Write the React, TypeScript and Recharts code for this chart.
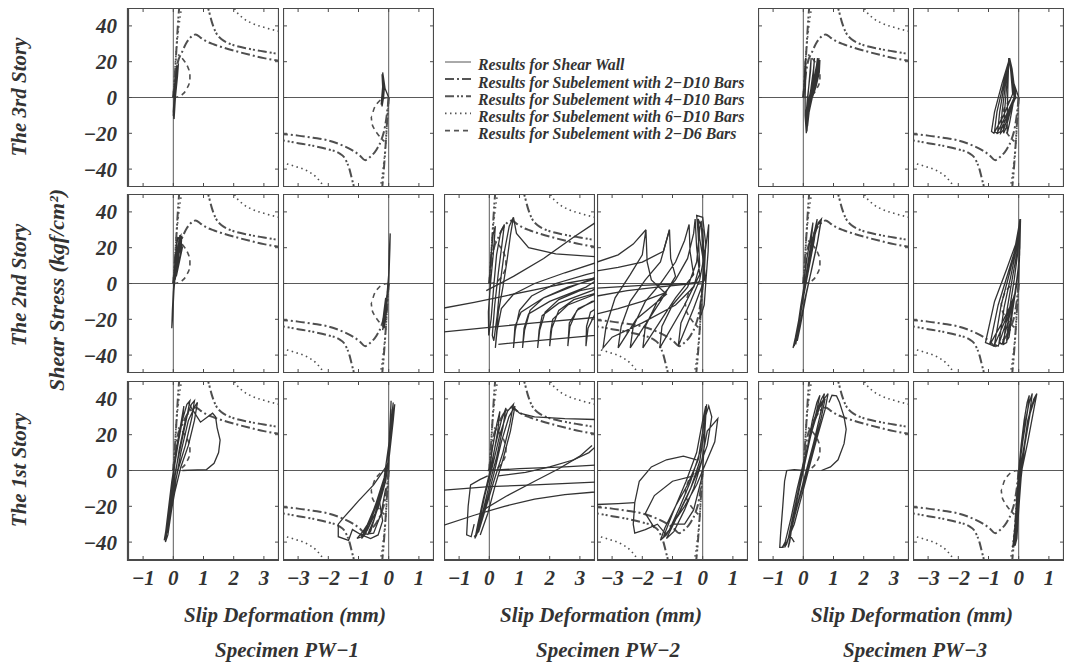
import React from "react";
import { LineChart, Line, XAxis, YAxis, ReferenceLine, ReferenceArea } from "recharts";

type Pt = [number, number];

const SERIF = "'Liberation Serif', 'DejaVu Serif', serif";
const INK = "#333";
const LINE = "#333";
const FRAME = "#4a4a4a";

// tick values
const posXTicks = [-1, 0, 1, 2, 3];
const negXTicks = [-3, -2, -1, 0, 1];
const yTicks = [-40, -20, 0, 20, 40];

// analytical curves, positive side panels
const d10x2Pos: Pt[] = [[0, 0], [0.06, 10], [0.14, 19], [0.28, 25], [0.45, 31], [0.6, 34], [0.74, 35.2], [0.9, 33.5], [1.1, 31.3], [1.35, 29.6], [1.6, 28.2], [2.0, 26.2], [2.5, 24], [3.0, 22], [3.5, 20.5]];
const d10x4Pos: Pt[] = [[0, 0], [0.05, 12], [0.1, 26], [0.15, 40], [0.2, 51], [0.35, 64], [0.65, 66], [0.95, 57], [1.15, 50], [1.28, 42], [1.42, 36], [1.6, 32.5], [1.8, 30.5], [2.0, 29.2], [2.5, 27.2], [3.0, 25.7], [3.5, 24.3]];
const d10x6Pos: Pt[] = [[0, 0], [0.04, 12], [0.1, 26], [0.18, 39], [0.28, 51], [0.6, 75], [1.3, 76], [1.8, 59], [2.05, 49], [2.3, 44.5], [2.6, 41.5], [3.0, 39.2], [3.5, 37]];
const d6x2Pos: Pt[] = [[0, 0], [0.18, 0.5], [0.32, 2], [0.45, 5], [0.55, 9.5], [0.55, 13], [0.48, 17], [0.38, 20], [0.26, 22.5], [0.16, 24]];

// analytical curves, negative side panels
const d10x2Neg: Pt[] = [[0, 0], [-0.05, -8], [-0.12, -16], [-0.25, -24], [-0.4, -29], [-0.6, -33], [-0.78, -35], [-0.95, -32.5], [-1.2, -29.5], [-1.5, -27], [-2.0, -24], [-2.5, -22.5], [-3.0, -21.3], [-3.5, -20.5]];
const d10x4Neg: Pt[] = [[0, 0], [-0.05, -12], [-0.1, -26], [-0.16, -40], [-0.22, -51], [-0.4, -64], [-0.7, -66], [-1.0, -58], [-1.18, -48], [-1.3, -40], [-1.45, -34], [-1.65, -31], [-2.0, -29], [-2.5, -27], [-3.0, -25.5], [-3.5, -24]];
const d10x6Neg: Pt[] = [[0, 0], [-0.04, -12], [-0.1, -26], [-0.18, -39], [-0.28, -51], [-0.6, -75], [-1.3, -76], [-1.9, -60], [-2.15, -50], [-2.4, -44.5], [-2.7, -41], [-3.1, -38.5], [-3.5, -36.5]];
const d6x2Neg: Pt[] = [[0, 0], [-0.18, -0.5], [-0.34, -2.5], [-0.48, -6], [-0.58, -10.5], [-0.56, -14], [-0.48, -17.5], [-0.36, -20.5], [-0.24, -23], [-0.14, -24.5]];

// measured shear wall results (slip mm, stress kgf/cm2)
const pw1Story3Pos: Pt[][] = [
  [[0, 0], [0.05, 8], [0.1, 15], [0.12, 18], [0.08, 10], [0.03, 0], [0.0, -8], [0.02, -12], [0.05, -4], [0.1, 6], [0.14, 16], [0.11, 17], [0.06, 6], [0.02, -4], [0.0, -10], [0.03, -11], [0.07, 0], [0.12, 10], [0.15, 17], [0.13, 14], [0.07, 3], [0.03, -6], [0.01, -9], [0.05, -2], [0.09, 8], [0.17, 19], [0.14, 12], [0.08, 2], [0.03, -5], [0.06, 4], [0.12, 13], [0.16, 18], [0.1, 8], [0.04, -2]],
];
const pw1Story3Neg: Pt[][] = [
  [[0, 0], [-0.12, 5], [-0.18, 12], [-0.2, 14], [-0.17, 8], [-0.22, 0], [-0.25, -4], [-0.2, -2], [-0.15, 4], [-0.19, 10], [-0.22, 13], [-0.2, 6], [-0.24, -2], [-0.22, -5], [-0.17, 0], [-0.14, 6]],
];
const pw3Story3Pos: Pt[][] = [
  [[0, 0], [0.04, 10], [0.06, 20], [0.08, 22], [0.08, 12], [0.06, 0], [0.06, -10], [0.1, -20], [0.12, -12], [0.16, 2], [0.22, 14], [0.26, 22], [0.24, 15], [0.14, 0], [0.08, -12], [0.12, -19], [0.18, -6], [0.26, 6], [0.34, 16], [0.37, 22], [0.33, 12], [0.2, 0], [0.12, -12], [0.14, -16], [0.22, -4], [0.32, 8], [0.44, 18], [0.47, 22], [0.42, 12], [0.28, 2], [0.16, -8], [0.12, -14], [0.22, -6], [0.35, 4], [0.5, 15], [0.55, 21], [0.53, 14], [0.42, 6], [0.26, -2], [0.12, -10], [0.2, -6], [0.36, 8], [0.52, 22], [0.45, 10], [0.25, -2]],
];
const pw3Story3Neg: Pt[][] = [
  [[0, 0], [-0.2, 10], [-0.3, 22], [-0.55, 8], [-0.8, -8], [-0.9, -19], [-0.82, -20], [-0.5, -10], [-0.2, 2], [-0.28, 18],
    [-0.31, 22], [-0.5, 8], [-0.72, -8], [-0.8, -19], [-0.72, -20], [-0.42, -10], [-0.15, 0], [-0.26, 17],
    [-0.3, 21], [-0.47, 8], [-0.63, -8], [-0.7, -20], [-0.6, -19], [-0.35, -9], [-0.12, 1], [-0.25, 18],
    [-0.32, 22], [-0.44, 7], [-0.55, -8], [-0.6, -20], [-0.5, -18], [-0.3, -8], [-0.1, 0], [-0.22, 16],
    [-0.3, 22], [-0.4, 6], [-0.47, -8], [-0.5, -20], [-0.42, -17], [-0.25, -6], [-0.1, 2], [-0.28, 19],
    [-0.33, 22], [-0.36, 5], [-0.38, -10], [-0.38, -20], [-0.3, -14], [-0.18, -3], [-0.12, 4], [-0.3, 20]],
];

const pw1Story2Pos: Pt[][] = [
  [[0, 0], [0.05, 10], [0.1, 20], [0.15, 26], [0.12, 22], [0.05, 8], [0, -5], [-0.03, -15], [-0.05, -25], [-0.02, -18], [0.02, -4], [0.08, 8], [0.18, 22], [0.22, 27], [0.18, 18], [0.08, 5], [0.05, 12], [0.12, 24], [0.25, 27], [0.22, 20], [0.12, 8], [0.06, 2], [0.1, 14], [0.2, 25], [0.28, 26], [0.24, 16], [0.15, 10], [0.08, 5], [0.12, 18], [0.25, 24], [0.3, 20], [0.2, 12], [0.1, 4], [0.16, 16], [0.26, 23], [0.14, 12]],
];
const pw1Story2Neg: Pt[][] = [
  [[0, 0], [0.02, 10], [0.04, 20], [0.05, 28], [0.02, 18], [0, 5], [-0.05, -5], [-0.1, -15], [-0.15, -22], [-0.2, -26], [-0.15, -20], [-0.08, -12], [-0.03, -2], [-0.08, -10], [-0.14, -18], [-0.18, -24], [-0.12, -22], [-0.06, -14], [-0.1, -8], [-0.16, -16], [-0.2, -22], [-0.15, -25], [-0.1, -18], [-0.05, -8], [0, 0]],
];
const pw2Story2Pos: Pt[][] = [
  [[0, 0], [0.05, 14], [0.12, 27], [0.2, 32], [0.14, 18], [0.04, 0], [-0.03, -16], [-0.02, -29], [0.06, -20], [0.14, -3],
    [0.24, 16], [0.38, 29], [0.5, 33], [0.42, 22], [0.3, 6], [0.18, -12], [0.1, -29], [0.15, -32], [0.26, -18],
    [0.36, 0], [0.5, 18], [0.66, 32], [0.8, 37], [0.7, 27], [0.58, 12], [0.45, -2],
    [0.3, -16], [0.2, -36], [0.26, -26], [0.4, -14], [0.8, -6], [1.5, 0], [2.5, 6], [3.6, 12], [4.2, 8],
    [3.0, 0], [1.8, -8], [1.05, -16], [0.85, -24], [0.8, -36], [0.86, -26], [1.0, -15], [1.4, -7], [2.2, 0], [3.2, 5], [4.2, 9],
    [3.2, -2], [2.0, -10], [1.3, -17], [1.15, -25], [1.1, -36], [1.17, -26], [1.35, -15], [1.8, -8], [2.6, -2], [3.6, 3], [4.3, 5],
    [3.4, -4], [2.3, -11], [1.75, -18], [1.65, -26], [1.6, -36], [1.67, -26], [1.85, -16], [2.3, -9], [3.0, -4], [4.2, 0],
    [3.5, -6], [2.6, -12], [2.1, -20], [2.03, -27], [2.0, -35], [2.07, -25], [2.3, -15], [2.8, -9], [3.6, -5], [4.4, -3],
    [3.7, -8], [2.95, -14], [2.65, -22], [2.6, -35], [2.67, -24], [2.9, -15], [3.4, -10], [4.3, -7],
    [3.9, -10], [3.35, -16], [3.22, -24], [3.2, -35], [3.27, -25], [3.5, -17], [4.2, -12]],
  [[-2, -12], [-1.5, -13.7], [-0.5, -10.5], [0.5, -7], [1.5, -3.5], [2.5, 0], [3.5, 3], [4, 4.5]],
  [[-2, -28], [-1.5, -27], [0, -24.5], [1.5, -22], [3.5, -19], [4, -18]],
  [[-0.1, -4], [0.8, 4], [1.8, 14], [2.8, 26], [3.6, 35]],
  [[0.8, 37], [0.9, 28], [1.3, 20], [2.2, 16.5], [3.5, 15], [4, 15]],
  [[0.3, -34], [1.5, -32], [3.5, -29], [4, -28]],
];
const pw2Story2Neg: Pt[][] = [
  [[0, 0], [0.05, 15], [0.0, 30], [-0.15, 36], [-0.1, 25], [0.05, 10], [0.1, 0], [0.05, -12], [-0.1, -20], [-0.05, -8], [0.05, 5], [0.1, 22], [0.0, 37], [-0.2, 38], [-0.15, 28],
    [-0.1, 10], [-0.3, -2], [-0.9, -12], [-2.0, -22], [-3.0, -30], [-3.3, -36], [-3.2, -24], [-2.9, -8], [-2.4, 5], [-2.0, 16], [-1.88, 30], [-1.84, 12], [-1.7, 2],
    [-1.2, -6], [-2.2, -20], [-2.8, -36], [-2.7, -24], [-2.4, -10], [-1.9, 2], [-1.4, 12], [-1.1, 30], [-1.06, 14], [-0.9, 4],
    [-1.4, -10], [-2.4, -36], [-2.3, -24], [-1.9, -10], [-1.4, 0], [-0.9, 12], [-0.6, 24], [-0.45, 33], [-0.42, 18], [-0.3, 5],
    [-0.9, -8], [-1.98, -36], [-1.9, -24], [-1.5, -10], [-0.9, 2], [-0.5, 14], [-0.3, 28], [-0.25, 36], [-0.2, 20], [-0.1, 5],
    [-0.6, -12], [-1.42, -36], [-1.35, -24], [-1.0, -12], [-0.5, -2], [-0.2, 12], [-0.1, 30], [-0.05, 35], [0, 18], [0.05, 2],
    [-0.3, -14], [-0.81, -35], [-0.72, -22], [-0.4, -10], [-0.1, 2], [0.1, 20], [0.2, 33], [0.18, 18], [0.1, 0]],
  [[-4, 9], [-3.5, 12], [-2.8, 16], [-2.3, 22], [-1.88, 30]],
  [[-4, 5], [-3.5, 7], [-2.8, 9], [-2.0, 12], [-1.3, 18], [-1.1, 30]],
  [[-4, -3], [-3.5, -2.6], [-2.0, -1], [-0.5, 0], [0, 1]],
  [[-4, -9], [-3.5, -7], [-2.5, -4], [-1.5, -2], [-0.3, 0]],
  [[-4, -19], [-3.5, -17], [-2.8, -14], [-2.0, -10], [-1.2, -5]],
];
const pw3Story2Pos: Pt[][] = [
  [[0, 0], [0.12, 14], [0.25, 27], [0.32, 34], [0.25, 22], [0.1, 6], [-0.05, -10], [-0.15, -24], [-0.25, -34], [-0.2, -26], [-0.08, -12], [0.06, 2], [0.22, 18], [0.38, 30], [0.46, 36], [0.36, 24], [0.18, 8], [0.0, -8], [-0.14, -22], [-0.3, -35], [-0.22, -28], [-0.06, -14], [0.1, 2], [0.28, 20], [0.45, 32], [0.58, 35], [0.46, 22], [0.28, 8], [0.06, -8], [-0.12, -24], [-0.34, -36], [-0.26, -30], [-0.1, -16], [0.08, 0], [0.3, 22], [0.5, 34], [0.6, 36], [0.48, 24], [0.3, 10], [0.1, -6], [-0.1, -24], [-0.2, -32]],
];
const pw3Story2Neg: Pt[][] = [
  [[0, 0], [0.05, 36], [-0.1, 22], [-0.4, 8], [-0.8, -10], [-1.1, -33], [-0.95, -34], [-0.55, -22], [-0.15, -8], [0, 10], [0.04, 26],
    [0.06, 35], [-0.1, 20], [-0.35, 6], [-0.68, -12], [-0.95, -34], [-0.82, -35], [-0.48, -22], [-0.13, -6], [0.02, 12], [0.05, 28],
    [0.04, 36], [-0.08, 21], [-0.3, 6], [-0.58, -12], [-0.8, -34], [-0.68, -35], [-0.4, -21], [-0.12, -5], [0.01, 12], [0.05, 30],
    [0.05, 34], [-0.07, 20], [-0.25, 5], [-0.48, -13], [-0.65, -33], [-0.55, -34], [-0.33, -20], [-0.1, -4], [0.02, 14], [0.05, 30],
    [0.04, 35], [-0.05, 18], [-0.2, 4], [-0.38, -14], [-0.5, -34], [-0.4, -33], [-0.25, -18], [-0.08, -2], [0.03, 16], [0.05, 32],
    [0.05, 36], [-0.04, 16], [-0.15, 2], [-0.3, -14], [-0.4, -32], [-0.32, -30], [-0.2, -15], [-0.06, 0], [0.04, 20], [0.06, 36]],
];

const pw1Story1Pos: Pt[][] = [
  [[0, 0], [0.1, 12], [0.25, 26], [0.35, 36], [0.3, 28], [0.1, 10], [-0.05, -6], [-0.15, -20], [-0.25, -34], [-0.3, -39], [-0.22, -32], [-0.1, -16], [0.02, 0], [0.15, 14], [0.3, 28], [0.45, 37], [0.55, 39], [0.45, 30], [0.25, 14], [0.05, -2], [-0.08, -16], [-0.2, -32], [-0.28, -38], [-0.2, -34], [-0.06, -18], [0.05, -4], [0.2, 12], [0.4, 28], [0.6, 37], [0.7, 39], [0.62, 30], [0.4, 14], [0.15, 0], [-0.05, -16], [-0.18, -30], [-0.26, -40], [-0.18, -36], [-0.04, -20], [0.08, -6], [0.25, 10], [0.5, 28], [0.72, 36], [0.8, 38], [0.7, 28], [0.5, 14], [0.25, 2], [0.05, -12], [-0.1, -26]],
  [[0.3, 0], [0.8, 0.3], [1.1, 0.5], [1.35, 4], [1.5, 10], [1.55, 17], [1.45, 24], [1.4, 30], [1.3, 32], [0.9, 27], [0.6, 35], [0.5, 38]],
];
const pw1Story1Neg: Pt[][] = [
  [[0, 0], [0.03, 15], [0.06, 30], [0.08, 39], [0.04, 25], [0.0, 8], [-0.1, -6], [-0.3, -18], [-0.5, -28], [-0.7, -36], [-0.6, -34], [-0.35, -20], [-0.1, -6], [0.02, 10], [0.1, 30], [0.15, 38], [0.1, 26], [0.0, 5], [-0.2, -10], [-0.45, -24], [-0.7, -33], [-0.9, -38], [-0.8, -36], [-0.5, -22], [-0.2, -8], [0.0, 6], [0.1, 25], [0.2, 37], [0.15, 28], [0.02, 8], [-0.25, -12], [-0.55, -26], [-0.85, -34], [-1.05, -38], [-0.9, -37], [-0.6, -28], [-0.3, -14], [-0.05, 0], [0.05, 20], [0.12, 34], [0.05, 20], [-0.15, -4], [-0.45, -20], [-0.75, -32], [-0.95, -36], [-0.5, -35], [-0.25, -24], [-0.1, -10]],
  [[-0.05, 3], [-0.5, -8], [-1.0, -17], [-1.5, -26.5], [-1.67, -30], [-1.67, -37], [-1.33, -39], [-1.2, -33], [-0.9, -36], [-0.6, -38], [-0.35, -36], [-0.2, -28], [-0.3, -18]],
];
const pw2Story1Pos: Pt[][] = [
  [[0, 0], [0.1, 12], [0.25, 26], [0.35, 33], [0.28, 22], [0.1, 5], [-0.1, -10], [-0.3, -24], [-0.45, -36], [-0.38, -30], [-0.2, -16], [0.0, -2], [0.2, 14], [0.4, 28], [0.55, 35], [0.45, 24], [0.25, 8], [0.0, -8], [-0.2, -22], [-0.42, -36], [-0.48, -38], [-0.35, -30], [-0.15, -14], [0.1, 2], [0.35, 20], [0.6, 33], [0.8, 37], [0.68, 26], [0.45, 10], [0.15, -6], [-0.1, -20], [-0.35, -34], [-0.5, -37], [-0.35, -34], [-0.1, -18], [0.15, -2], [0.4, 16], [0.65, 30], [0.85, 36], [0.7, 22], [0.45, 6], [0.2, -8], [-0.05, -24], [-0.3, -36]],
  [[-0.05, -3], [-0.3, -5], [-0.62, -8], [-0.7, -20], [-0.75, -36], [-0.6, -37], [-0.5, -30]],
  [[0.75, 36], [1.0, 32], [1.5, 30], [2.5, 29], [3.5, 28.5], [4, 28.5]],
  [[0.3, -3], [1.2, -1], [2.0, 2], [2.8, 6], [3.3, 10], [3.5, 13], [3.7, 16]],
  [[-0.05, 0], [1.0, 1], [2.5, 2], [3.5, 3], [4, 3.3]],
  [[-2, -12], [-1.5, -11], [0, -9], [1.5, -8], [3.5, -6.5], [4, -6]],
  [[-2, -32], [-1.5, -30.5], [-0.5, -25], [0.5, -20], [1.5, -16], [2.5, -13.5], [3.5, -12], [4, -11]],
  [[-0.2, -22], [0.6, -14], [1.5, -6], [2.3, 1], [3.0, 8], [3.4, 14]],
];
const pw2Story1Neg: Pt[][] = [
  [[0, 0], [0.05, 15], [0.1, 30], [0.13, 37], [0.05, 22], [-0.1, 5], [-0.4, -10], [-0.8, -24], [-1.2, -36], [-1.4, -39], [-1.25, -32], [-0.9, -20], [-0.5, -8], [-0.15, 6], [0.0, 22], [0.1, 36], [0.0, 28], [-0.2, 10], [-0.55, -6], [-0.95, -22], [-1.3, -37], [-1.1, -33], [-0.75, -20], [-0.4, -6], [-0.1, 10], [0.05, 28], [0.2, 36], [0.3, 30], [0.15, 14], [-0.15, 0], [-0.5, -14], [-0.85, -26], [-1.2, -38], [-0.95, -34], [-0.6, -22], [-0.3, -10], [-0.05, 4], [0.15, 22], [0.5, 29], [0.4, 16], [0.1, 4], [-0.2, -8], [-0.6, -20], [-1.0, -30], [-0.6, -30], [-0.3, -22], [-0.15, -12], [0, -2]],
  [[-0.2, 6], [-0.64, 8], [-1.2, 6], [-1.7, 2], [-2.1, -6], [-2.25, -18], [-2.3, -30], [-2.25, -35], [-1.9, -33], [-1.5, -30], [-1.2, -36]],
  [[-4, -19], [-3.5, -19], [-2.8, -18.5], [-2.25, -18]],
  [[-0.3, -3], [-1.0, -6], [-1.6, -14], [-1.9, -24], [-1.6, -32]],
];
const pw3Story1Pos: Pt[][] = [
  [[0, 0], [0.15, 14], [0.3, 28], [0.45, 38], [0.55, 42], [0.45, 34], [0.2, 16], [0, 0], [-0.2, -14], [-0.35, -28], [-0.45, -40], [-0.5, -43], [-0.42, -36], [-0.25, -20], [-0.05, -4], [0.15, 12], [0.35, 28], [0.6, 40], [0.7, 43], [0.6, 34], [0.35, 16], [0.1, 0], [-0.15, -16], [-0.35, -30], [-0.55, -41], [-0.62, -43], [-0.5, -38], [-0.3, -22], [-0.1, -6], [0.1, 10], [0.35, 26], [0.6, 38], [0.82, 43], [0.72, 34], [0.45, 18], [0.2, 2], [-0.05, -14], [-0.3, -30], [-0.55, -40], [-0.7, -43], [-0.6, -40], [-0.4, -26], [-0.2, -10], [0, 4], [0.25, 20], [0.5, 34], [0.72, 40], [0.6, 30], [0.35, 14], [0.1, -2], [-0.2, -20], [-0.45, -36], [-0.3, -40]],
  [[0.6, 0], [0.9, 2], [1.15, 6], [1.35, 15], [1.42, 23], [1.35, 30], [1.2, 38], [1.1, 41.7], [0.95, 42], [0.85, 38]],
  [[0, 0], [-0.3, 0.5], [-0.55, 0], [-0.62, -6], [-0.68, -20], [-0.75, -35], [-0.78, -43], [-0.65, -43]],
];
const pw3Story1Neg: Pt[][] = [
  [[0, 0], [0.08, 14], [0.18, 28], [0.28, 38], [0.35, 42], [0.3, 34], [0.15, 18], [0.02, 2], [-0.05, -12], [-0.1, -26], [-0.16, -38], [-0.2, -43], [-0.14, -36], [-0.08, -22], [0, -6], [0.08, 10], [0.2, 26], [0.35, 38], [0.45, 43], [0.38, 34], [0.22, 18], [0.06, 2], [-0.04, -14], [-0.1, -30], [-0.15, -42], [-0.1, -40], [-0.04, -26], [0.04, -8], [0.15, 10], [0.3, 28], [0.5, 40], [0.6, 43], [0.5, 34], [0.3, 16], [0.1, 0], [-0.02, -16], [-0.08, -32], [-0.12, -42], [-0.06, -38], [0.0, -22], [0.08, -4], [0.2, 14], [0.38, 32], [0.55, 41]],
];

// panel layout in the page
const COL_LEFT = [128, 283, 444, 597, 758, 913];
const ROW_TOP = [8, 194, 381];
const PLOT_W = 151;
const PLOT_H = 179;

const PANELS: { row: number; col: number; data: Pt[][] }[] = [
  { row: 0, col: 0, data: pw1Story3Pos },
  { row: 0, col: 1, data: pw1Story3Neg },
  { row: 0, col: 4, data: pw3Story3Pos },
  { row: 0, col: 5, data: pw3Story3Neg },
  { row: 1, col: 0, data: pw1Story2Pos },
  { row: 1, col: 1, data: pw1Story2Neg },
  { row: 1, col: 2, data: pw2Story2Pos },
  { row: 1, col: 3, data: pw2Story2Neg },
  { row: 1, col: 4, data: pw3Story2Pos },
  { row: 1, col: 5, data: pw3Story2Neg },
  { row: 2, col: 0, data: pw1Story1Pos },
  { row: 2, col: 1, data: pw1Story1Neg },
  { row: 2, col: 2, data: pw2Story1Pos },
  { row: 2, col: 3, data: pw2Story1Neg },
  { row: 2, col: 4, data: pw3Story1Pos },
  { row: 2, col: 5, data: pw3Story1Neg },
];

const CURVE_STYLES = [
  { name: "Results for Subelement with 2\u2212D10 Bars", dash: "9 3 2 3", width: 2 },
  { name: "Results for Subelement with 4\u2212D10 Bars", dash: "9 3 2 2 2 3", width: 2 },
  { name: "Results for Subelement with 6\u2212D10 Bars", dash: "1.5 3.5", width: 1.6 },
  { name: "Results for Subelement with 2\u2212D6 Bars", dash: "5 4", width: 1.6 },
];
const posCurves = [d10x2Pos, d10x4Pos, d10x6Pos, d6x2Pos];
const negCurves = [d10x2Neg, d10x4Neg, d10x6Neg, d6x2Neg];

const tickFont = { fontSize: 21, fontWeight: 700, fontStyle: "italic", fontFamily: SERIF, fill: INK };
const fmt = (v: number) => (v < 0 ? `\u2212${Math.abs(v)}` : `${v}`);
const toRows = (pts: Pt[]) => pts.map(([x, y]) => ({ x, y }));

function Panel({ row, col, data }: { row: number; col: number; data: Pt[][] }) {
  const pos = col % 2 === 0;
  const showY = col === 0;
  const showX = row === 2;
  const yW = showY ? 60 : 0;
  const xH = showX ? 34 : 0;
  const [xMin, xMax] = pos ? [-1.5, 3.5] : [-3.5, 1.5];
  const ticksX = pos ? posXTicks : negXTicks;
  const curves = pos ? posCurves : negCurves;
  const tx = 4 / 30.2; // inner tick length in x units
  const ty = 4 / 1.79; // inner tick length in y units
  return (
    <div style={{ position: "absolute", left: COL_LEFT[col] - yW, top: ROW_TOP[row] }}>
      <LineChart width={PLOT_W + yW} height={PLOT_H + xH} margin={{ top: 0, right: 0, bottom: 0, left: 0 }}>
        <XAxis dataKey="x" type="number" domain={[xMin, xMax]} ticks={ticksX} allowDataOverflow
          hide={!showX} height={xH} tickSize={0} tickMargin={10} tickFormatter={fmt}
          tick={tickFont} axisLine={false} tickLine={false} />
        <YAxis type="number" domain={[-50, 50]} ticks={yTicks} allowDataOverflow
          hide={!showY} width={yW} tickSize={0} tickMargin={11} tickFormatter={fmt}
          tick={tickFont} axisLine={false} tickLine={false} />
        <ReferenceLine x={0} stroke="#5a5a5a" strokeWidth={1} />
        <ReferenceLine y={0} stroke="#5a5a5a" strokeWidth={1} />
        {ticksX.map((t) => (
          <ReferenceLine key={`b${t}`} segment={[{ x: t, y: -50 }, { x: t, y: -50 + ty }]} stroke={FRAME} />
        ))}
        {ticksX.map((t) => (
          <ReferenceLine key={`t${t}`} segment={[{ x: t, y: 50 }, { x: t, y: 50 - ty }]} stroke={FRAME} />
        ))}
        {yTicks.map((t) => (
          <ReferenceLine key={`l${t}`} segment={[{ x: xMin, y: t }, { x: xMin + tx, y: t }]} stroke={FRAME} />
        ))}
        {yTicks.map((t) => (
          <ReferenceLine key={`r${t}`} segment={[{ x: xMax, y: t }, { x: xMax - tx, y: t }]} stroke={FRAME} />
        ))}
        {curves.map((c, i) => (
          <Line key={`c${i}`} data={toRows(c)} dataKey="y" type="monotone"
            stroke="#4f4f4f" strokeWidth={CURVE_STYLES[i].width} strokeDasharray={CURVE_STYLES[i].dash}
            dot={false} activeDot={false} isAnimationActive={false} />
        ))}
        {data.map((seg, i) => (
          <Line key={`s${i}`} data={toRows(seg)} dataKey="y" type="linear"
            stroke={LINE} strokeWidth={1.3} dot={false} activeDot={false} isAnimationActive={false} />
        ))}
        <ReferenceArea x1={xMin} x2={xMax} y1={-50} y2={50} fill="none" fillOpacity={0}
          stroke={FRAME} strokeWidth={2.2} ifOverflow="visible" />
      </LineChart>
    </div>
  );
}

const textStyle = { fontFamily: SERIF, fontWeight: 700, fontStyle: "italic", fill: INK } as const;

export default function App() {
  const slipCenters = [285, 601, 912];
  const specCenters = [287, 608, 915];
  const rowLabels = [
    { text: "The 3rd Story", y: 97 },
    { text: "The 2nd Story", y: 285 },
    { text: "The 1st Story", y: 470 },
  ];
  return (
    <div style={{ position: "absolute", left: 0, top: 0, width: 1069, height: 663, background: "#fff" }}>
      <svg width={1069} height={663} style={{ position: "absolute", left: 0, top: 0 }}>
        {rowLabels.map((r) => (
          <text key={r.text} {...textStyle} fontSize={21} textAnchor="middle"
            transform={`translate(26 ${r.y}) rotate(-90)`}>{r.text}</text>
        ))}
        <text {...textStyle} fontSize={22} textAnchor="middle" transform="translate(64 290) rotate(-90)">
          Shear Stress (kgf/cm²)
        </text>
        {slipCenters.map((cx, i) => (
          <text key={`sl${i}`} {...textStyle} fontSize={21} textAnchor="middle" x={cx} y={622}>
            Slip Deformation (mm)
          </text>
        ))}
        {specCenters.map((cx, i) => (
          <text key={`sp${i}`} {...textStyle} fontSize={21} textAnchor="middle" x={cx} y={657}>
            {`Specimen PW\u2212${i + 1}`}
          </text>
        ))}
        <g>
          <line x1={445} x2={471} y1={62} y2={62} stroke="#555" strokeWidth={1} />
          <text {...textStyle} fontSize={15.8} x={478} y={70}>Results for Shear Wall</text>
          {CURVE_STYLES.map((s, i) => (
            <g key={s.name}>
              <line x1={445} x2={471} y1={79 + i * 17.2} y2={79 + i * 17.2} stroke="#555"
                strokeWidth={s.width} strokeDasharray={s.dash} />
              <text {...textStyle} fontSize={15.8} x={478} y={87.5 + i * 17.2}>{s.name}</text>
            </g>
          ))}
        </g>
      </svg>
      {PANELS.map((p) => (
        <Panel key={`${p.row}-${p.col}`} row={p.row} col={p.col} data={p.data} />
      ))}
    </div>
  );
}
